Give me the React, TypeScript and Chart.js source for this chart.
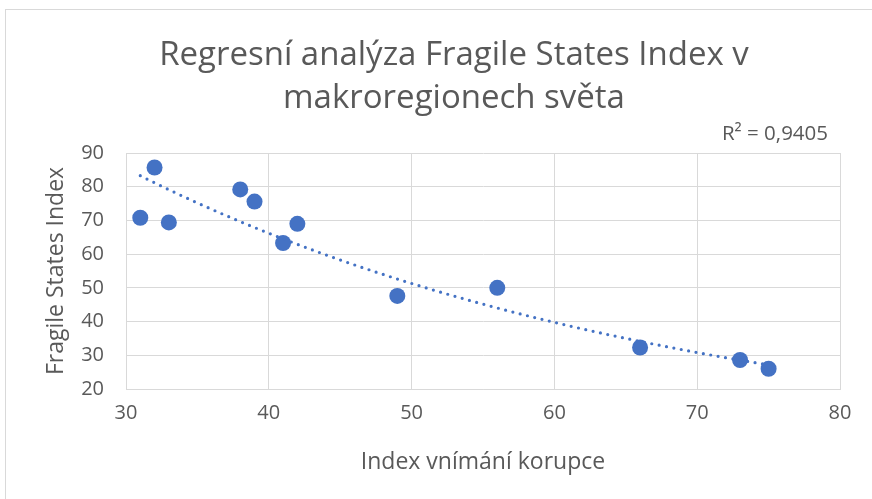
import React, { useEffect, useRef } from "react";
import { Chart, registerables } from "chart.js";

Chart.register(...registerables);

const titleLines = ["Regresní analýza Fragile States Index v", "makroregionech světa"];
const xTitle = "Index vnímání korupce";
const yTitle = "Fragile States Index";
const r2Label = "R² = 0,9405";

const cpiValues = [31, 32, 33, 38, 39, 41, 42, 49, 56, 66, 73, 75];
const fsiValues = [70.8, 85.7, 69.4, 79.2, 75.6, 63.3, 69.0, 47.6, 50.0, 32.3, 28.6, 26.0];

const xMin = 30, xMax = 80, xStep = 10;
const yMin = 20, yMax = 90, yStep = 10;

const FONT = "'Open Sans', 'Liberation Sans', sans-serif";
const TEXT = "#595959";
const GRID = "#d9d9d9";
const BLUE = "#4472C4";

// exponential least-squares fit (on ln y), like Excel's exponential trendline
function expFit(xs: number[], ys: number[]) {
  const n = xs.length;
  let sx = 0, sy = 0, sxx = 0, sxy = 0;
  for (let i = 0; i < n; i++) {
    const ly = Math.log(ys[i]);
    sx += xs[i]; sy += ly; sxx += xs[i] * xs[i]; sxy += xs[i] * ly;
  }
  const b = (n * sxy - sx * sy) / (n * sxx - sx * sx);
  const lnA = (sy - b * sx) / n;
  return (x: number) => Math.exp(lnA + b * x);
}

export default function App() {
  const ref = useRef<HTMLCanvasElement>(null);
  useEffect(() => {
    const f = expFit(cpiValues, fsiValues);
    const lo = Math.min(...cpiValues), hi = Math.max(...cpiValues);
    const trend: { x: number; y: number }[] = [];
    for (let x = lo; x <= hi + 1e-9; x += 0.5) trend.push({ x, y: f(x) });

    const textPlugin = {
      id: "texts",
      afterDraw(chart: any) {
        const ctx = chart.ctx;
        ctx.save();
        ctx.fillStyle = TEXT;
        ctx.textAlign = "center";
        ctx.textBaseline = "middle";
        ctx.font = `33px ${FONT}`;
        ctx.fillText(titleLines[0], 454, 56);
        ctx.fillText(titleLines[1], 454, 99);
        ctx.font = `20.5px ${FONT}`;
        ctx.fillText(r2Label, 775, 134);
        ctx.restore();
      },
    };

    const chart = new Chart(ref.current!, {
      type: "scatter",
      data: {
        datasets: [
          {
            label: "data",
            data: cpiValues.map((x, i) => ({ x, y: fsiValues[i] })),
            backgroundColor: BLUE,
            borderColor: BLUE,
            pointRadius: 8,
            pointHoverRadius: 8,
            borderWidth: 0,
            order: 1,
          },
          {
            label: "trend",
            type: "line",
            data: trend,
            borderColor: BLUE,
            borderWidth: 3.2,
            borderDash: [0, 7.5],
            borderCapStyle: "round",
            pointRadius: 0,
            fill: false,
            tension: 0,
            order: 0,
          } as any,
        ],
      },
      options: {
        animation: false,
        responsive: false,
        maintainAspectRatio: false,
        layout: { padding: { top: 153, right: 32, bottom: 0, left: 0 } },
        plugins: { legend: { display: false }, tooltip: { enabled: false }, title: { display: false } },
        scales: {
          x: {
            type: "linear",
            min: xMin,
            max: xMax,
            ticks: { stepSize: xStep, color: TEXT, font: { family: FONT, size: 20 }, padding: 12 },
            grid: { color: GRID, lineWidth: 1, drawTicks: false },
            border: { color: GRID, width: 1 },
            title: { display: true, text: xTitle, color: TEXT, font: { family: FONT, size: 23 }, padding: { bottom: 23 } },
            afterFit(s: any) { s.height = 110; },
          },
          y: {
            type: "linear",
            min: yMin,
            max: yMax,
            ticks: { stepSize: yStep, color: TEXT, font: { family: FONT, size: 20 }, padding: 22 },
            grid: { color: GRID, lineWidth: 1, drawTicks: false },
            border: { color: GRID, width: 1 },
            title: { display: true, text: yTitle, color: TEXT, font: { family: FONT, size: 23 }, padding: { top: 43 } },
            afterFit(s: any) { s.width = 126; },
          },
        },
      },
      plugins: [textPlugin],
    });
    return () => chart.destroy();
  }, []);

  return (
    <div style={{ position: "absolute", left: 0, top: 0, width: 872, height: 499, background: "#fff" }}>
      <div style={{ position: "absolute", left: 5, top: 9, width: 900, height: 600, borderLeft: "1px solid #d9d9d9", borderTop: "1px solid #d9d9d9" }} />
      <canvas ref={ref} width={872} height={499} style={{ position: "absolute", left: 0, top: 0, width: 872, height: 499 }} />
    </div>
  );
}
